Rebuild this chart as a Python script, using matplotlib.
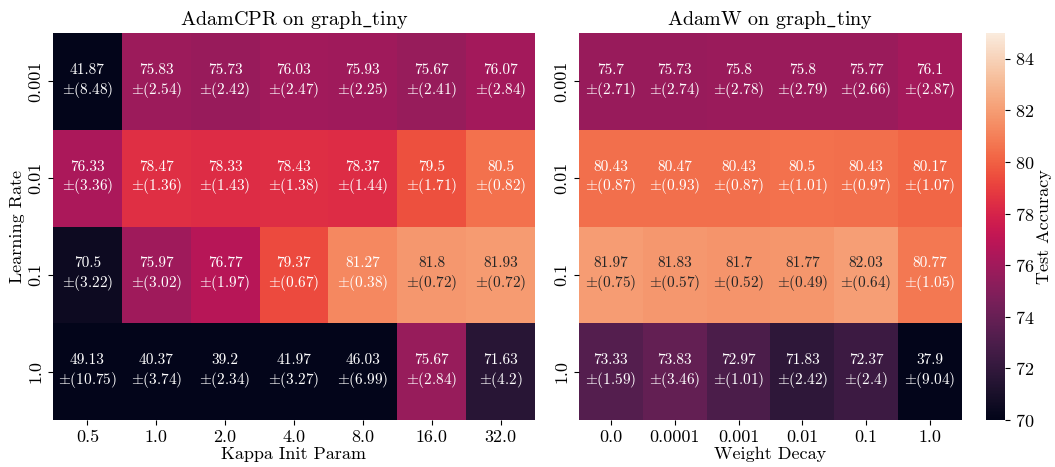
import matplotlib
matplotlib.use('Agg')
import matplotlib.pyplot as plt
import numpy as np
import seaborn as sns

#### plot settings
plt.rcParams['font.family'] = ['cmr10', 'DejaVu Serif']
plt.rcParams['mathtext.fontset'] = 'cm'
plt.rcParams['axes.unicode_minus'] = False
plt.rcParams['axes.formatter.use_mathtext'] = True
annotsize = 11
ticksize = 13
labelsize = 13
titlesize = 14.5
######

lr_labels = ['0.001', '0.01', '0.1', '1.0']
kappa_labels = ['0.5', '1.0', '2.0', '4.0', '8.0', '16.0', '32.0']
wd_labels = ['0.0', '0.0001', '0.001', '0.01', '0.1', '1.0']

cpr_mean = [[41.87, 75.83, 75.73, 76.03, 75.93, 75.67, 76.07],
            [76.33, 78.47, 78.33, 78.43, 78.37, 79.5, 80.5],
            [70.5, 75.97, 76.77, 79.37, 81.27, 81.8, 81.93],
            [49.13, 40.37, 39.2, 41.97, 46.03, 75.67, 71.63]]
cpr_std = [[8.48, 2.54, 2.42, 2.47, 2.25, 2.41, 2.84],
           [3.36, 1.36, 1.43, 1.38, 1.44, 1.71, 0.82],
           [3.22, 3.02, 1.97, 0.67, 0.38, 0.72, 0.72],
           [10.75, 3.74, 2.34, 3.27, 6.99, 2.84, 4.2]]

adamw_mean = [[75.7, 75.73, 75.8, 75.8, 75.77, 76.1],
              [80.43, 80.47, 80.43, 80.5, 80.43, 80.17],
              [81.97, 81.83, 81.7, 81.77, 82.03, 80.77],
              [73.33, 73.83, 72.97, 71.83, 72.37, 37.9]]
adamw_std = [[2.71, 2.74, 2.78, 2.79, 2.66, 2.87],
             [0.87, 0.93, 0.87, 1.01, 0.97, 1.07],
             [0.75, 0.57, 0.52, 0.49, 0.64, 1.05],
             [1.59, 3.46, 1.01, 2.42, 2.4, 9.04]]


def make_annot(mean, std):
    return np.array([['{}\n$\\pm$({})'.format(m, s) for m, s in zip(mr, sr)]
                     for mr, sr in zip(mean, std)])


fig = plt.figure(figsize=(10.55, 4.67), dpi=100)
ax1 = fig.add_axes([0.0502, 0.1006, 0.4569, 0.8287])
ax2 = fig.add_axes([0.5488, 0.1006, 0.3630, 0.8287])
cax = fig.add_axes([0.9346, 0.1006, 0.018, 0.8287])

sns.heatmap(np.array(cpr_mean), ax=ax1, cmap='rocket', vmin=70, vmax=85,
            annot=make_annot(cpr_mean, cpr_std), fmt='', cbar=False,
            annot_kws={'fontsize': annotsize},
            xticklabels=kappa_labels, yticklabels=lr_labels)
sns.heatmap(np.array(adamw_mean), ax=ax2, cmap='rocket', vmin=70, vmax=85,
            annot=make_annot(adamw_mean, adamw_std), fmt='', cbar_ax=cax,
            annot_kws={'fontsize': annotsize},
            xticklabels=wd_labels, yticklabels=lr_labels)

ax1.set_title('AdamCPR on graph$\\_$tiny', fontsize=titlesize)
ax2.set_title('AdamW on graph$\\_$tiny', fontsize=titlesize)
ax1.set_xlabel('Kappa Init Param', fontsize=labelsize, labelpad=1)
ax2.set_xlabel('Weight Decay', fontsize=labelsize, labelpad=1)
ax1.set_ylabel('Learning Rate', fontsize=labelsize, labelpad=2)
for ax in (ax1, ax2):
    ax.tick_params(labelsize=ticksize)
    plt.setp(ax.get_yticklabels(), rotation=90, va='center')
    plt.setp(ax.get_xticklabels(), rotation=0)

cax.tick_params(labelsize=ticksize)
cax.set_ylabel('Test Accuracy', fontsize=labelsize, labelpad=2)

fig.savefig('out.png', dpi=100)
